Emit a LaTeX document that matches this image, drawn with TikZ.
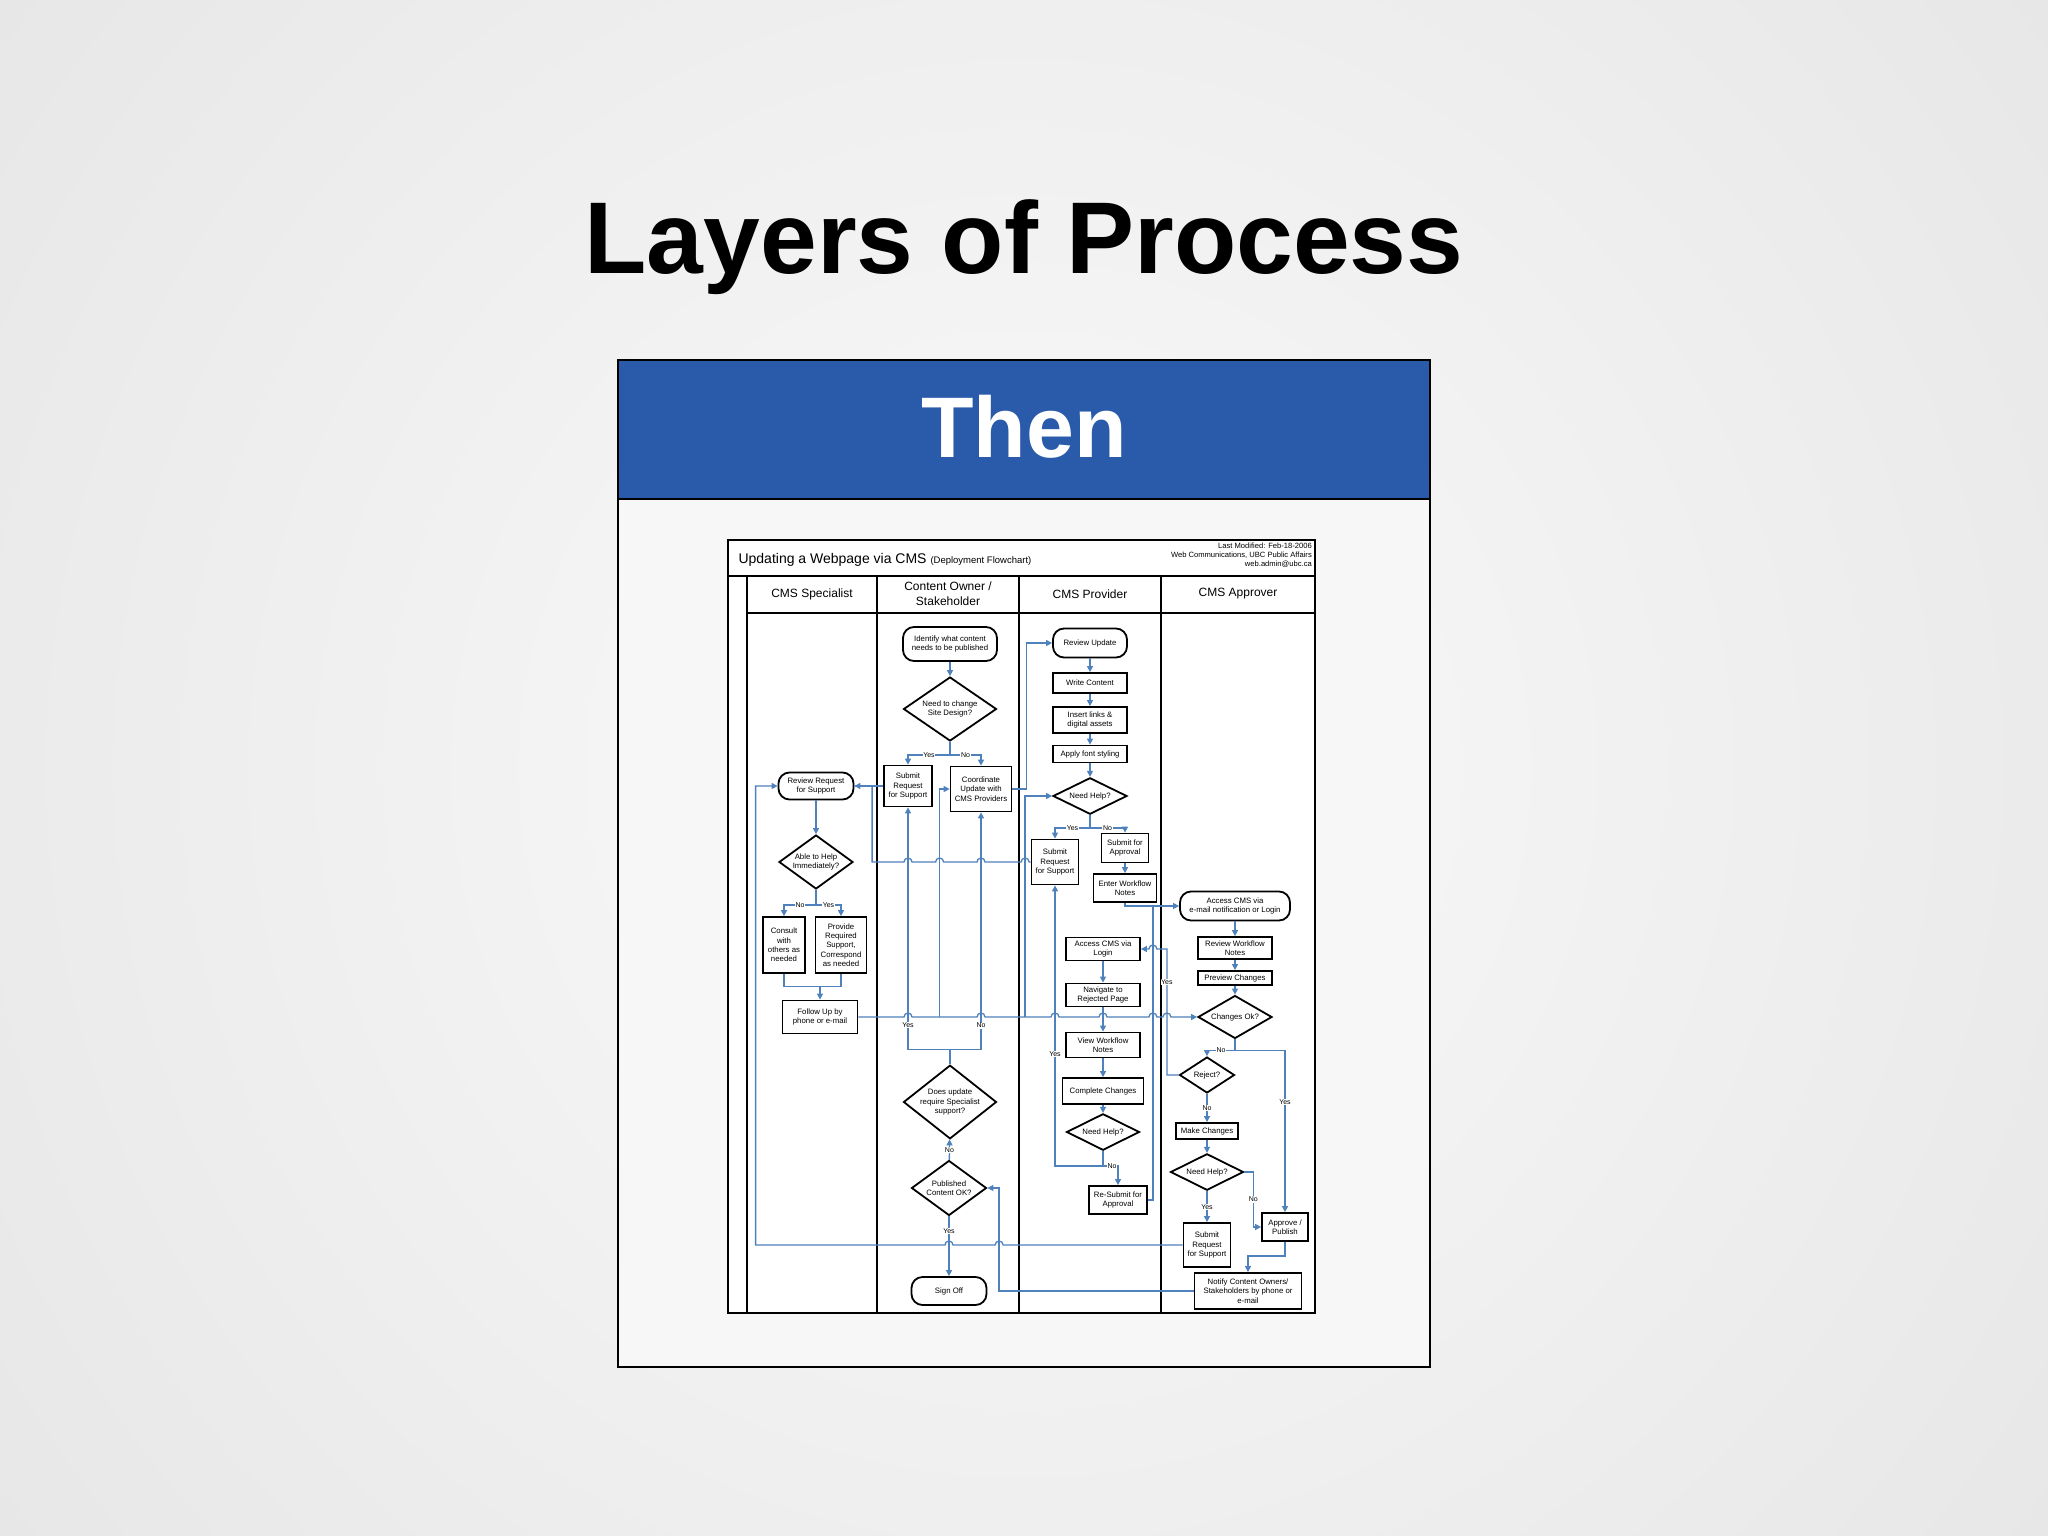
\documentclass[tikz,border=0pt]{standalone}
\usepackage{fontspec}
\setmainfont{Liberation Sans}
\usetikzlibrary{shapes.geometric,arrows.meta}

\definecolor{slideblue}{RGB}{41,91,170}
\definecolor{flowblue}{RGB}{79,129,189}
\definecolor{bgin}{RGB}{250,250,250}
\definecolor{bgout}{RGB}{210,210,210}

\newcommand{\nodefont}{\fontsize{7.8}{9.3}\selectfont}
% little bridges where a line jumps over another one
\newcommand{\hopR}[1]{-- ([xshift=-4pt]#1) arc[start angle=180,end angle=0,radius=4pt]}
\newcommand{\hopL}[1]{-- ([xshift=4pt]#1) arc[start angle=0,end angle=180,radius=4pt]}

\tikzset{
  proc/.style={draw, line width=1.8pt, fill=white, align=center, inner sep=1pt, font=\nodefont},
  term/.style={proc, rounded corners=11pt},
  dec/.style={proc, diamond, inner sep=-3pt},
  conn/.style={draw=flowblue, line width=1.3pt, -{Triangle[length=6pt,width=6pt]}},
  link/.style={draw=flowblue, line width=1.3pt},
  lbl/.style={fill=white, inner sep=0.6pt, font=\fontsize{7}{8}\selectfont},
  lane/.style={line width=2pt},
}

\begin{document}
\begin{tikzpicture}[x=1pt,y=-1pt]
\useasboundingbox (0,0) rectangle (2048,1536);
\begin{scope}
  \clip (0,0) rectangle (2048,1536);
  \shade[inner color=bgin, outer color=bgout] (1024,768) circle (2700pt);
\end{scope}

% slide
\node[anchor=base, font=\fontsize{102}{110}\selectfont\bfseries] (title) at (1024,273) {Layers of Process};
\draw[line width=1.5pt, fill=gray!6] (618,360) rectangle (1430,1367);
\fill[slideblue] (618,360) rectangle (1430,499);
\draw[line width=1.5pt] (618,499) -- (618,360) -- (1430,360) -- (1430,499) -- cycle;
\node[anchor=base, text=white, font=\fontsize{86}{90}\selectfont\bfseries] (then) at (1024,457) {Then};

% flowchart frame and lanes
\draw[line width=2pt, fill=white] (728,540) rectangle (1315,1313);
\draw[lane] (728,576) -- (1315,576);
\draw[lane] (747,576) -- (747,1313);
\draw[lane] (747,613) -- (1315,613);
\foreach \x in {877,1019,1161} \draw[lane] (\x,576) -- (\x,1313);

\node[anchor=base west, font=\fontsize{14}{16}\selectfont] (fctitle) at (735,563) {Updating a Webpage via CMS {\fontsize{9.5}{11}\selectfont(Deployment Flowchart)}};
\node[anchor=north east, align=right, inner sep=0pt, font=\fontsize{7.6}{9}\selectfont] (fcinfo) at (1312,543) {Last Modified: Feb-18-2006\\Web Communications, UBC Public Affairs\\web.admin@ubc.ca};

\node[font=\fontsize{12}{15}\selectfont] (hspec) at (812,594) {CMS Specialist};
\node[font=\fontsize{12}{15}\selectfont, align=center] (howner) at (948,594) {Content Owner /\\Stakeholder};
\node[font=\fontsize{12}{15}\selectfont] (hprov) at (1090,594) {CMS Provider};
\node[font=\fontsize{12}{15}\selectfont] (happr) at (1238,594) {CMS Approver};

% CMS Specialist
\node[term, minimum width=75pt, minimum height=27pt] (revreq) at (816,786) {Review Request\\for Support};
\node[dec, minimum width=74pt, minimum height=54pt] (able) at (816,862) {Able to Help\\Immediately?};
\node[proc, minimum width=42pt, minimum height=56pt] (consult) at (784,945) {Consult\\with\\others as\\needed};
\node[proc, minimum width=51pt, minimum height=56pt] (provide) at (841,945) {Provide\\Required\\Support,\\Correspond\\as needed};
\node[proc, minimum width=75pt, minimum height=33pt] (followup) at (820,1017) {Follow Up by\\phone or e-mail};

% Content Owner / Stakeholder
\node[term, minimum width=94pt, minimum height=34pt] (ident) at (950,644) {Identify what content\\needs to be published};
\node[dec, minimum width=93pt, minimum height=64pt] (sitedes) at (950,709) {Need to change\\Site Design?};
\node[proc, minimum width=48pt, minimum height=41pt] (subco) at (908,786) {Submit\\Request\\for Support};
\node[proc, minimum width=61pt, minimum height=45pt] (coord) at (981,789) {Coordinate\\Update with\\CMS Providers};
\node[dec, minimum width=93pt, minimum height=61pt] (specsup) at (950,1102) {Does update\\require Specialist\\support?};
\node[dec, minimum width=75pt, minimum height=55pt] (pubok) at (949,1188) {Published\\Content OK?};
\node[term, minimum width=75pt, minimum height=28pt] (signoff) at (949,1291) {Sign Off};

% CMS Provider
\node[term, minimum width=74pt, minimum height=29pt] (revupd) at (1090,643) {Review Update};
\node[proc, minimum width=74pt, minimum height=20pt] (write) at (1090,683) {Write Content};
\node[proc, minimum width=74pt, minimum height=26pt] (links) at (1090,720) {Insert links \&\\digital assets};
\node[proc, minimum width=74pt, minimum height=17pt] (font) at (1090,754) {Apply font styling};
\node[dec, minimum width=74pt, minimum height=26pt] (helpa) at (1090,796) {Need Help?};
\node[proc, minimum width=47pt, minimum height=45pt] (subpr) at (1055,862) {Submit\\Request\\for Support};
\node[proc, minimum width=47pt, minimum height=29pt] (subappr) at (1125,848) {Submit for\\Approval};
\node[proc, minimum width=63pt, minimum height=28pt] (notes) at (1125,888) {Enter Workflow\\Notes};
\node[proc, minimum width=74pt, minimum height=23pt] (login) at (1103,949) {Access CMS via\\Login};
\node[proc, minimum width=74pt, minimum height=23pt] (navig) at (1103,995) {Navigate to\\Rejected Page};
\node[proc, minimum width=74pt, minimum height=25pt] (viewn) at (1103,1045) {View Workflow\\Notes};
\node[proc, minimum width=81pt, minimum height=26pt] (compl) at (1103,1091) {Complete Changes};
\node[dec, minimum width=73pt, minimum height=32pt] (helpb) at (1103,1132) {Need Help?};
\node[proc, minimum width=58pt, minimum height=28pt] (resub) at (1118,1200) {Re-Submit for\\Approval};

% CMS Approver
\node[term, minimum width=110pt, minimum height=29pt] (access) at (1235,906) {Access CMS via\\e-mail notification or Login};
\node[proc, minimum width=74pt, minimum height=22pt] (revwf) at (1235,948) {Review Workflow\\Notes};
\node[proc, minimum width=74pt, minimum height=14pt] (prev) at (1235,978) {Preview Changes};
\node[dec, minimum width=74pt, minimum height=40pt] (chgok) at (1235,1017) {Changes Ok?};
\node[dec, minimum width=55pt, minimum height=36pt] (reject) at (1207,1075) {Reject?};
\node[proc, minimum width=62pt, minimum height=16pt] (makech) at (1207,1131) {Make Changes};
\node[dec, minimum width=73pt, minimum height=33pt] (helpc) at (1207,1172) {Need Help?};
\node[proc, minimum width=47pt, minimum height=44pt] (subap) at (1207,1245) {Submit\\Request\\for Support};
\node[proc, minimum width=46pt, minimum height=28pt] (approve) at (1285,1227) {Approve /\\Publish};
\node[proc, minimum width=107pt, minimum height=36pt] (notify) at (1248,1291) {Notify Content Owners/\\Stakeholders by phone or\\e-mail};

% bend points
\coordinate (jc) at ([xshift=-10pt]followup.east -| coord.west);
\coordinate (jh) at ([xshift=-27pt]followup.east -| revupd.west);
\coordinate (rs) at ([xshift=5pt]resub.east);
\coordinate (ry) at ([xshift=26pt]login.east);

% content owner
\draw[conn] (ident) -- (sitedes);
\draw[link] (sitedes.south) -- ++(0,13) coordinate (sd);
\draw[conn] (sd) -| node[pos=0.25,lbl]{Yes} (subco.north);
\draw[conn] (sd) -| node[pos=0.25,lbl]{No} (coord.north);
\draw[link] (specsup.north) -- ++(0,-15) coordinate (ss);
\draw[conn] (ss) -| node[pos=0.55,lbl]{Yes} (subco.south);
\draw[conn] (ss) -| node[pos=0.55,lbl]{No} (coord.south);
\draw[conn] (pubok) -- node[lbl]{No} (specsup);
\draw[conn] (pubok) -- node[pos=0.25,lbl]{Yes} (signoff);
\draw[conn] (coord.east) -- ++(14,0) |- (revupd.west);

% specialist
\draw[conn] (subco) -- (revreq);
\draw[conn] (revreq) -- (able);
\draw[link] (able.south) -- ++(0,15) coordinate (ab);
\draw[conn] (ab) -| node[pos=0.25,lbl]{No} (consult.north);
\draw[conn] (ab) -| node[pos=0.25,lbl]{Yes} (provide.north);
\coordinate (mg) at ([yshift=13pt]followup.north);
\draw[link] (consult.south) |- (mg) -| (provide.south);
\draw[conn] (mg) -- (followup.north);
\draw[conn] (followup.east)
  \hopR{followup.east -| subco.south}
  \hopR{followup.east -| coord.south}
  \hopR{followup.east -| subpr.south}
  \hopR{followup.east -| navig.south}
  \hopR{followup.east -| rs}
  \hopR{followup.east -| ry}
  -- (chgok.west);
\draw[conn] (jc) |- (coord.west);
\draw[conn] (jh) |- (helpa.west);

% provider
\draw[conn] (revupd) -- (write);
\draw[conn] (write) -- (links);
\draw[conn] (links) -- (font);
\draw[conn] (font) -- (helpa);
\draw[link] (helpa.south) -- ++(0,13) coordinate (ha);
\draw[conn] (ha) -| node[pos=0.25,lbl]{Yes} (subpr.north);
\draw[conn] (ha) -| node[pos=0.25,lbl]{No} (subappr.north);
\draw[link] (subpr.west)
  \hopL{subpr.west -| jh}
  \hopL{subpr.west -| coord.south}
  \hopL{subpr.west -| jc}
  \hopL{subpr.west -| subco.south}
  -- ([xshift=-11pt]subpr.west -| subco.west) |- (revreq.east);
\draw[conn] (subappr) -- (notes);
\draw[conn] (notes.south) |- (access.west);
\draw[link] (resub.east) -- (rs) -- (rs |- access.west);
\draw[conn] (login) -- (navig);
\draw[conn] (navig) -- (viewn);
\draw[conn] (viewn) -- (compl);
\draw[conn] (compl) -- (helpb);
\draw[link] (helpb.south) -- ++(0,15) coordinate (hb);
\draw[conn] (hb) -| node[pos=0.7,lbl]{Yes} (subpr.south);
\draw[conn] (hb) -| node[pos=0.3,lbl]{No} (resub.north);

% approver
\draw[conn] (access) -- (revwf);
\draw[conn] (revwf) -- (prev);
\draw[conn] (prev) -- (chgok);
\draw[link] (chgok.south) -- ++(0,11) coordinate (ck);
\draw[conn] (ck) -| node[pos=0.25,lbl]{No} (reject.north);
\draw[conn] (ck) -| node[pos=0.66,lbl]{Yes} (approve.north);
\draw[conn] (reject.west) -| node[pos=0.87,lbl]{Yes} (ry) \hopL{ry -| rs} -- (login.east);
\draw[conn] (reject) -- node[lbl]{No} (makech);
\draw[conn] (makech) -- (helpc);
\draw[conn] (helpc) -- node[lbl]{Yes} (subap);
\draw[conn] (helpc.east) -- ++(9,0) |- node[pos=0.25,lbl]{No} (approve.west);
\draw[conn] (approve.south) -- ++(0,14) -| (notify.north);
\draw[conn] (notify.west) -- ++(-194.5,0) coordinate (nv) |- (pubok.east);
\draw[conn] (subap.west)
  \hopL{subap.west -| nv}
  \hopL{subap.west -| signoff.north}
  -- ([xshift=-22pt]subap.west -| revreq.west) |- (revreq.west);
\end{tikzpicture}
\end{document}
